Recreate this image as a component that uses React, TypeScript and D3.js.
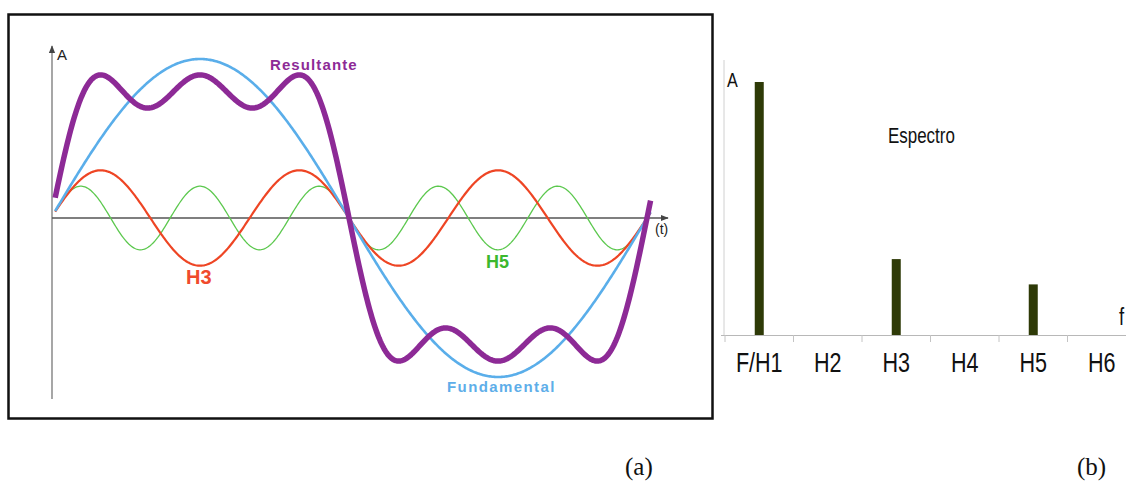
import React from "react";
import * as d3 from "d3";

// Left panel: harmonic synthesis (amplitudes relative to fundamental)
const harmonicNames = ["Fundamental", "H3", "H5"];
const harmonicOrders = [1, 3, 5];
const harmonicAmps = [1, 0.3, 0.2];
const harmonicColors = ["#5aaeea", "#ee4524", "#5cc84e"];
const harmonicWidths = [2.6, 2.2, 1.3];
const resultColor = "#8d2a96";
// drawn portion of the period (t in periods)
const tStart = 0.007;
const tEnd = 1.006;

// Right panel: spectrum
const spectrumCats = ["F/H1", "H2", "H3", "H4", "H5", "H6"];
const spectrumVals = [1, 0, 0.3, 0, 0.2, 0];

export default function App() {
  // ---- left panel scales
  const x = d3.scaleLinear().domain([0, 1]).range([51, 647]);
  const y = d3.scaleLinear().domain([-1, 1]).range([377, 59]);
  const N = 500;
  const ts = d3.range(N + 1).map((i) => tStart + ((tEnd - tStart) * i) / N);
  const wave = (k: number) => (t: number) =>
    harmonicAmps[k] * Math.sin(2 * Math.PI * harmonicOrders[k] * t);
  const sum = (t: number) => harmonicAmps.reduce((s, _, k) => s + wave(k)(t), 0);
  const mk = (f: (t: number) => number) =>
    d3
      .line<number>()
      .x((t) => x(t))
      .y((t) => y(f(t)))(ts) as string;

  // ---- right panel scales
  const xb = d3.scaleBand().domain(spectrumCats).range([725, 1136]).padding(0);
  const yb = d3.scaleLinear().domain([0, 1]).range([335, 82]);
  const barW = 9;

  const sansB = "'Liberation Sans', Arial, sans-serif";
  const serif = "'Liberation Serif', 'DejaVu Serif', serif";
  const SX = 0.77;
  const narrowText = (key: string, txt: string, px: number, py: number, size: number, anchor: string = "start") => (
    <text
      key={key}
      transform={`translate(${px},${py}) scale(${SX},1)`}
      textAnchor={anchor}
      fontFamily={sansB}
      fontSize={size}
      fill="#111"
    >
      {txt}
    </text>
  );

  return (
    <svg
      width={1126}
      height={481}
      style={{ position: "absolute", left: 0, top: 0, background: "#fff" }}
    >
      <defs>
        <marker id="arr" viewBox="0 0 10 10" refX="9" refY="5" markerWidth="6" markerHeight="6" orient="auto">
          <path d="M0,1 L10,5 L0,9 z" fill="#444" />
        </marker>
      </defs>
      {/* panel (a) frame */}
      <rect x={8.5} y={14.5} width={704} height={404} fill="#fff" stroke="#111" strokeWidth={2.5} />

      {/* axes */}
      <line x1={52} y1={399} x2={52} y2={46} stroke="#777" strokeWidth={1.3} markerEnd="url(#arr)" />
      <line x1={52} y1={y(0)} x2={668} y2={y(0)} stroke="#555" strokeWidth={1.3} markerEnd="url(#arr)" />
      <text x={57} y={60} fontFamily={sansB} fontSize={15} fill="#222">A</text>
      <text x={655} y={234} fontFamily={sansB} fontSize={14} fill="#222">(t)</text>

      {/* harmonic curves */}
      {[2, 1, 0].map((k) => (
        <path key={harmonicNames[k]} d={mk(wave(k))} fill="none" stroke={harmonicColors[k]} strokeWidth={harmonicWidths[k]} />
      ))}
      <path d={mk(sum)} fill="none" stroke={resultColor} strokeWidth={5.5} strokeLinejoin="round" />

      {/* labels */}
      <text x={270} y={69.5} fontFamily={sansB} fontWeight="bold" fontSize={15} letterSpacing={1.1} fill={resultColor}>Resultante</text>
      <text x={186} y={284} fontFamily={sansB} fontWeight="bold" fontSize={20} fill="#f04a2c">H3</text>
      <text x={486} y={268} fontFamily={sansB} fontWeight="bold" fontSize={18} fill="#3cb82e">H5</text>
      <text x={447} y={392} fontFamily={sansB} fontWeight="bold" fontSize={15} letterSpacing={1.4} fill="#5eaee9">Fundamental</text>

      {/* panel (b) spectrum */}
      <line x1={724} y1={60} x2={724} y2={335} stroke="#d0d0d0" strokeWidth={1} />
      <line x1={721} y1={335.5} x2={1126} y2={335.5} stroke="#b8b8b8" strokeWidth={1} />
      {spectrumCats.map((c) => (
        <line key={"t" + c} x1={xb(c)!} x2={xb(c)!} y1={335} y2={342} stroke="#c4c4c4" strokeWidth={1} />
      ))}
      {spectrumCats.map((c, i) =>
        spectrumVals[i] > 0 ? (
          <rect
            key={"b" + c}
            x={xb(c)! + xb.bandwidth() / 2 - barW / 2}
            y={yb(spectrumVals[i])}
            width={barW}
            height={yb(0) - yb(spectrumVals[i])}
            fill="#2e3a07"
          />
        ) : null
      )}
      {spectrumCats.map((c) => narrowText("l" + c, c, xb(c)! + xb.bandwidth() / 2, 372, 28, "middle"))}
      {narrowText("A", "A", 727, 87, 21)}
      {narrowText("esp", "Espectro", 888, 143, 22)}
      {narrowText("f", "f", 1119, 325, 24)}

      {/* captions */}
      <text x={625} y={475} fontFamily={serif} fontSize={25} fill="#111">(a)</text>
      <text x={1077} y={475} fontFamily={serif} fontSize={25} fill="#111">(b)</text>
    </svg>
  );
}
